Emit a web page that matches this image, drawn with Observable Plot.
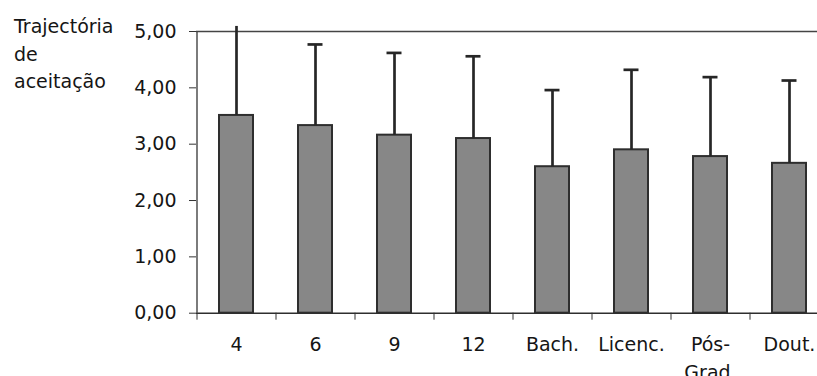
<!DOCTYPE html>
<html>
<head>
<meta charset="utf-8">
<script src="https://cdn.jsdelivr.net/npm/d3@7"></script>
<script src="https://cdn.jsdelivr.net/npm/@observablehq/plot@0.6"></script>
<style>
  html, body { margin: 0; padding: 0; background: #fff; overflow: hidden; }
  #wrap { position: relative; width: 817px; height: 376px; }
  #title { position: absolute; left: 14px; top: 13px; font-family: "DejaVu Sans", sans-serif; font-size: 19px; line-height: 27.5px; color: #151515; }
  #chart { position: absolute; left: 0; top: 0; }
</style>
</head>
<body>
<div id="wrap">
  <div id="chart"></div>
  <div id="title">Trajectória<br>de<br>aceitação</div>
</div>
<script>
const categories = ["4", "6", "9", "12", "Bach.", "Licenc.", "Pós-Grad.", "Dout."];
const xLabels = ["4", "6", "9", "12", "Bach.", "Licenc.", "Pós-\nGrad.", "Dout."];
const means = [3.51, 3.33, 3.16, 3.10, 2.60, 2.90, 2.78, 2.66];
const sds = [1.58, 1.44, 1.46, 1.46, 1.36, 1.42, 1.41, 1.47];
const yTicks = [0, 1, 2, 3, 4, 5];

const data = categories.map((c, i) => ({cat: c, mean: means[i], top: means[i] + sds[i]}));
const yMax = yTicks[yTicks.length - 1];
const fmt = d => d.toFixed(2).replace(".", ",");
const ink = "#262626";

const chart = Plot.plot({
  width: 817,
  height: 376,
  marginTop: 31,
  marginBottom: 63.3,
  marginLeft: 196,
  marginRight: 0,
  style: {fontFamily: "DejaVu Sans, sans-serif", fontSize: "19px", color: "#151515", background: "transparent", overflow: "visible"},
  x: {type: "band", domain: categories, range: [196, 828], paddingInner: 0.57, paddingOuter: 0.285, label: null},
  y: {domain: [0, yMax], label: null},
  marks: [
    Plot.ruleY([yMax], {stroke: "#444", strokeWidth: 1.4}),
    Plot.barY(data, {x: "cat", y: "mean", fill: "#878787", stroke: "#2e2e2e", strokeWidth: 2}),
    Plot.ruleX(data, {x: "cat", y1: "mean", y2: "top", stroke: ink, strokeWidth: 2.7}),
    Plot.tickY(data.filter(d => d.top <= yMax), {x: "cat", y: "top", stroke: ink, strokeWidth: 2.7, insetLeft: 9.5, insetRight: 9.5}),
    Plot.ruleY([0], {stroke: "#2e2e2e", strokeWidth: 1.5}),
    Plot.ruleX([categories[0]], {y1: 0, y2: yMax, dx: -39.5, stroke: "#444", strokeWidth: 1.4}),
    Plot.axisY({ticks: yTicks, tickFormat: fmt, tickSize: 7, tickPadding: 13, stroke: "#333", fill: "#151515", label: null}),
    Plot.axisX({tickSize: 7, tickFormat: () => "", dx: -39.5, stroke: "#333", label: null}),
    Plot.axisX({tickSize: 0, tickPadding: 18, tickFormat: d => xLabels[categories.indexOf(d)], lineHeight: 1.47, fill: "#151515", label: null})
  ]
});
document.getElementById("chart").appendChild(chart);
</script>
</body>
</html>
